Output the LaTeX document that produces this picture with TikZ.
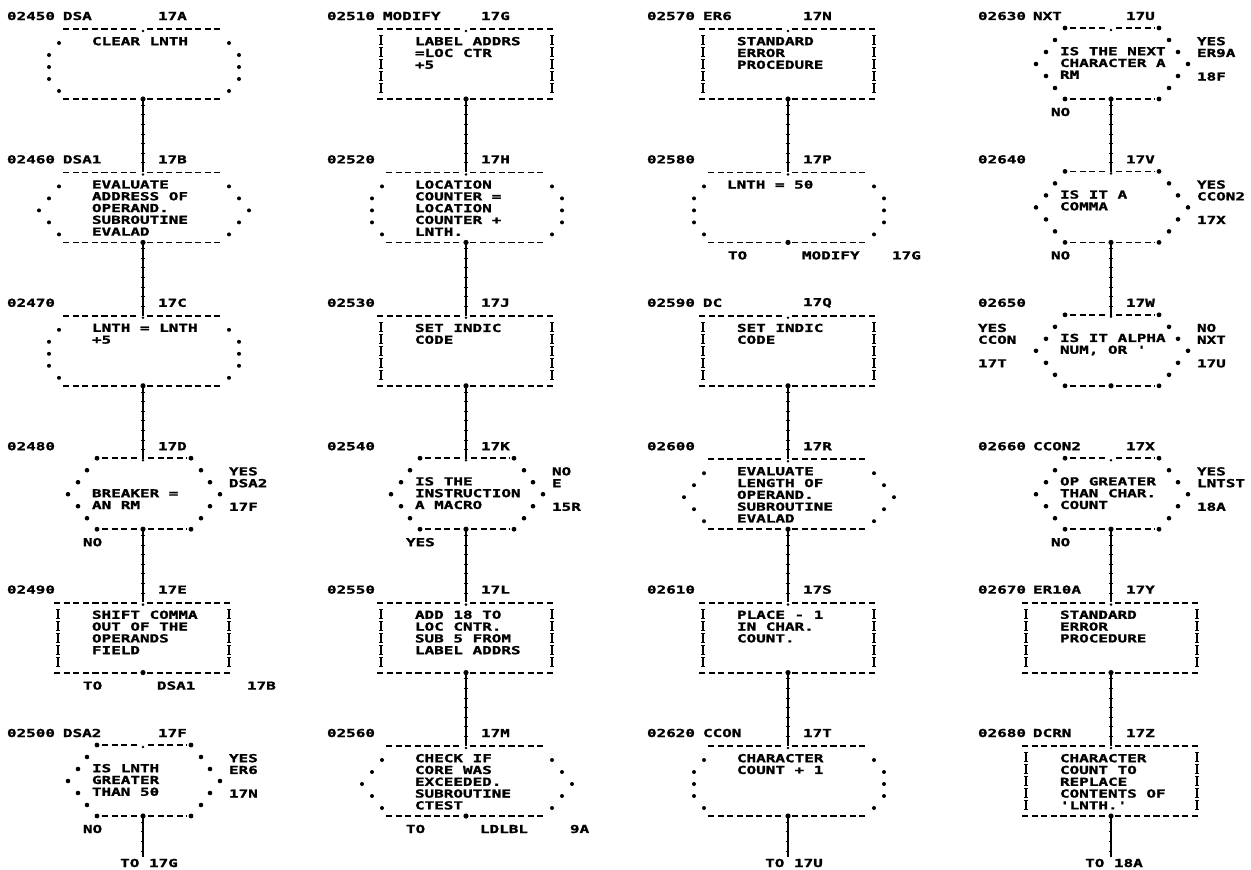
\documentclass[tikz,border=0pt]{standalone}
\usepackage{fontspec}
\newfontfamily\prtfont[FakeStretch=1.45,FakeBold=1.6]{DejaVu Sans Mono}
\usetikzlibrary{decorations.markings}
\tikzset{
  txt/.style={font=\prtfont\bfseries\fontsize{11}{11.8}\selectfont, inner sep=0pt, outer sep=0pt, text=black},
  txtb/.style={txt, align=left, anchor=north west},
  dashln/.style={line width=1.8pt, dash pattern=on 6.2pt off 3.4pt},
  shp/.style={draw=none, minimum width=180pt, minimum height=70pt, inner sep=0pt},
  conn/.style={line width=1.3pt, postaction={decorate, decoration={markings,
      mark=between positions 6pt and -2pt step 9.6pt with {\draw[line width=1pt] (0,-2.4pt) -- (0,2.4pt);}}}},
}
\newcommand\rowlabel[8]{%
  \node[txt,anchor=west] (#1n) at (#2,#5) {#6};
  \node[txt,anchor=west] (#1m) at (#3,#5) {#7};
  \node[txt,anchor=west] (#1r) at ({#4+15},#5) {#8};}
\newcommand\btext[5]{\node[txtb] (#1) at ({#2-51},{#3+#4}) {#5};}
\newcommand\rtext[4]{\node[txtb] (#1) at ({#2+86},{#3+21}) {#4};}
\newcommand\btmlabel[4]{\node[txt,anchor=west] (#1) at ({#2-60},{#3+96}) {#4};}
\newcommand\tolabel[5]{%
  \node[txt,anchor=west] (#1a) at ({#2-60},{#3+96}) {TO};
  \node[txt,anchor=west] (#1b) at ({#2+14},{#3+96}) {#4};
  \node[txt,anchor=west] (#1c) at ({#2+104},{#3+96}) {#5};}
\newcommand\hlines[3]{% y, left, right
  \draw[dashln] (#2,#1) -- (-4,#1); \draw[dashln] (4,#1) -- (#3,#1);}
\newcommand\ovalshape[3]{%
  \begin{scope}[shift={(#2,#3)}]
    \node[shp] (#1) at (0,48) {};
    \hlines{13}{-80}{80}\hlines{83}{-80}{80}
    \fill (0,15) circle (1.4pt); \fill (0,83) circle (2.6pt);
    \foreach \x/\y in {-84/27,-94/39,-94/51,-94/63,-84/75,86/27,96/39,96/51,96/63,86/75}
      \fill (\x,\y) circle (2pt);
  \end{scope}}
\newcommand\subshape[3]{%
  \begin{scope}[shift={(#2,#3)}]
    \node[shp] (#1) at (0,48) {};
    \hlines{13}{-80}{80}\hlines{83}{-80}{80}
    \fill (0,15) circle (1.4pt); \fill (0,83) circle (2.6pt);
    \foreach \x/\y in {-84/27,-94/39,-104/51,-94/63,-84/75,86/27,96/39,106/51,96/63,86/75}
      \fill (\x,\y) circle (2pt);
  \end{scope}}
\newcommand\procshape[3]{%
  \begin{scope}[shift={(#2,#3)}]
    \node[shp] (#1) at (0,48) {};
    \hlines{13}{-89}{88}\hlines{83}{-89}{88}
    \fill (0,15) circle (1.4pt); \fill (0,83) circle (2.6pt);
    \foreach \x in {-85,86} \foreach \y in {24,36,48,60,72} {
      \draw[line width=1.4pt] (\x,\y-4.5) -- (\x,\y+4.5);
      \draw[line width=1.1pt] (\x-2,\y-4.5) -- (\x+2,\y-4.5) (\x-2,\y+4.5) -- (\x+2,\y+4.5);}
  \end{scope}}
\newcommand\decshape[3]{%
  \begin{scope}[shift={(#2,#3)}]
    \node[shp] (#1) at (0,48) {};
    \draw[dashln] (-41,12) -- (-5,12); \draw[dashln] (5,12) -- (44,12);
    \draw[dashln] (-41,83) -- (-5,83); \draw[dashln] (5,83) -- (44,83);
    \foreach \x/\y in {-46/12,48/12,-46/83,48/83} \fill (\x,\y) circle (2.4pt);
    \fill (0,14) circle (1.4pt); \fill (0,83) circle (2.6pt);
    \foreach \x/\y in {-56/24,-65/36,-75/48,-65/60,-56/72,58/24,67/36,77/48,67/60,58/72}
      \fill (\x,\y) circle (2.3pt);
  \end{scope}}
\begin{document}
\begin{tikzpicture}[x=1pt,y=-1pt]
\useasboundingbox (0,0) rectangle (1251,870);
\fill[white] (0,0) rectangle (1251,870);
% ---------- column 1
\rowlabel{a1}{7}{63}{143}{16}{02450}{DSA}{17A}
\ovalshape{a1}{143}{16}
\btext{a1t}{143}{16}{21}{CLEAR LNTH}
\rowlabel{a2}{7}{63}{143}{159.4}{02460}{DSA1}{17B}
\subshape{a2}{143}{159.4}
\btext{a2t}{143}{159.4}{21}{EVALUATE\\ADDRESS OF\\OPERAND.\\SUBROUTINE\\EVALAD}
\rowlabel{a3}{7}{63}{143}{302.8}{02470}{}{17C}
\ovalshape{a3}{143}{302.8}
\btext{a3t}{143}{302.8}{21}{LNTH = LNTH\\+5}
\rowlabel{a4}{7}{63}{143}{446.2}{02480}{}{17D}
\decshape{a4}{143}{446.2}
\btext{a4t}{143}{446.2}{43}{BREAKER =\\AN RM}
\rtext{a4s}{143}{446.2}{YES\\DSA2\\[11.8pt]17F}
\btmlabel{a4b}{143}{446.2}{NO}
\rowlabel{a5}{7}{63}{143}{589.6}{02490}{}{17E}
\procshape{a5}{143}{589.6}
\btext{a5t}{143}{589.6}{21}{SHIFT COMMA\\OUT OF THE\\OPERANDS\\FIELD}
\tolabel{a5o}{143}{589.6}{DSA1}{17B}
\rowlabel{a6}{7}{63}{143}{733}{02500}{DSA2}{17F}
\decshape{a6}{143}{733}
\btext{a6t}{143}{733}{31}{IS LNTH\\GREATER\\THAN 50}
\rtext{a6s}{143}{733}{YES\\ER6\\[11.8pt]17N}
\btmlabel{a6b}{143}{733}{NO}
\node[txt] (a7) at (149,863) {TO 17G};
\draw[conn] (a1.south) -- (a2.north);
\draw[conn] (a2.south) -- (a3.north);
\draw[conn] (a3.south) -- (a4.north);
\draw[conn] (a4.south) -- (a5.north);
\draw[conn, shorten >=2pt] (a6.south) -- (a6.south |- a7.north);
% ---------- column 2
\rowlabel{b1}{327}{383}{466}{16}{02510}{MODIFY}{17G}
\procshape{b1}{466}{16}
\btext{b1t}{466}{16}{21}{LABEL ADDRS\\=LOC CTR\\+5}
\rowlabel{b2}{327}{383}{466}{159.4}{02520}{}{17H}
\ovalshape{b2}{466}{159.4}
\btext{b2t}{466}{159.4}{21}{LOCATION\\COUNTER =\\LOCATION\\COUNTER +\\LNTH.}
\rowlabel{b3}{327}{383}{466}{302.8}{02530}{}{17J}
\procshape{b3}{466}{302.8}
\btext{b3t}{466}{302.8}{21}{SET INDIC\\CODE}
\rowlabel{b4}{327}{383}{466}{446.2}{02540}{}{17K}
\decshape{b4}{466}{446.2}
\btext{b4t}{466}{446.2}{31}{IS THE\\INSTRUCTION\\A MACRO}
\rtext{b4s}{466}{446.2}{NO\\E\\[11.8pt]15R}
\btmlabel{b4b}{466}{446.2}{YES}
\rowlabel{b5}{327}{383}{466}{589.6}{02550}{}{17L}
\procshape{b5}{466}{589.6}
\btext{b5t}{466}{589.6}{21}{ADD 18 TO\\LOC CNTR.\\SUB 5 FROM\\LABEL ADDRS}
\rowlabel{b6}{327}{383}{466}{733}{02560}{}{17M}
\subshape{b6}{466}{733}
\btext{b6t}{466}{733}{21}{CHECK IF\\CORE WAS\\EXCEEDED.\\SUBROUTINE\\CTEST}
\tolabel{b6o}{466}{733}{LDLBL}{9A}
\draw[conn] (b1.south) -- (b2.north);
\draw[conn] (b2.south) -- (b3.north);
\draw[conn] (b3.south) -- (b4.north);
\draw[conn] (b4.south) -- (b5.north);
\draw[conn] (b5.south) -- (b6.north);
% ---------- column 3
\rowlabel{c1}{647}{703}{788}{16}{02570}{ER6}{17N}
\procshape{c1}{788}{16}
\btext{c1t}{788}{16}{21}{STANDARD\\ERROR\\PROCEDURE}
\rowlabel{c2}{647}{703}{788}{159.4}{02580}{}{17P}
\ovalshape{c2}{788}{159.4}
\node[txtb] (c2t) at (727,180.4) {LNTH = 50};
\tolabel{c2o}{788}{159.4}{MODIFY}{17G}
\rowlabel{c3}{647}{703}{788}{302.8}{02590}{DC}{17Q}
\procshape{c3}{788}{302.8}
\btext{c3t}{788}{302.8}{21}{SET INDIC\\CODE}
\rowlabel{c4}{647}{703}{788}{446.2}{02600}{}{17R}
\subshape{c4}{788}{446.2}
\btext{c4t}{788}{446.2}{21}{EVALUATE\\LENGTH OF\\OPERAND.\\SUBROUTINE\\EVALAD}
\rowlabel{c5}{647}{703}{788}{589.6}{02610}{}{17S}
\procshape{c5}{788}{589.6}
\btext{c5t}{788}{589.6}{21}{PLACE - 1\\IN CHAR.\\COUNT.}
\rowlabel{c6}{647}{703}{788}{733}{02620}{CCON}{17T}
\ovalshape{c6}{788}{733}
\btext{c6t}{788}{733}{21}{CHARACTER\\COUNT + 1}
\node[txt] (c7) at (794,863) {TO 17U};
\draw[conn] (c1.south) -- (c2.north);
\draw[conn] (c3.south) -- (c4.north);
\draw[conn] (c4.south) -- (c5.north);
\draw[conn] (c5.south) -- (c6.north);
\draw[conn, shorten >=2pt] (c6.south) -- (c6.south |- c7.north);
% ---------- column 4
\rowlabel{d1}{978}{1033}{1111}{16}{02630}{NXT}{17U}
\decshape{d1}{1111}{16}
\btext{d1t}{1111}{16}{31}{IS THE NEXT\\CHARACTER A\\RM}
\rtext{d1s}{1111}{16}{YES\\ER9A\\[11.8pt]18F}
\btmlabel{d1b}{1111}{16}{NO}
\rowlabel{d2}{978}{1033}{1111}{159.4}{02640}{}{17V}
\decshape{d2}{1111}{159.4}
\btext{d2t}{1111}{159.4}{31}{IS IT A\\COMMA}
\rtext{d2s}{1111}{159.4}{YES\\CCON2\\[11.8pt]17X}
\btmlabel{d2b}{1111}{159.4}{NO}
\rowlabel{d3}{978}{1033}{1111}{302.8}{02650}{}{17W}
\decshape{d3}{1111}{302.8}
\btext{d3t}{1111}{302.8}{31}{IS IT ALPHA\\NUM, OR '}
\rtext{d3s}{1111}{302.8}{NO\\NXT\\[11.8pt]17U}
\node[txtb] (d3l) at (978,323.8) {YES\\CCON\\[11.8pt]17T};
\rowlabel{d4}{978}{1033}{1111}{446.2}{02660}{CCON2}{17X}
\decshape{d4}{1111}{446.2}
\btext{d4t}{1111}{446.2}{31}{OP GREATER\\THAN CHAR.\\COUNT}
\rtext{d4s}{1111}{446.2}{YES\\LNTST\\[11.8pt]18A}
\btmlabel{d4b}{1111}{446.2}{NO}
\rowlabel{d5}{978}{1033}{1111}{589.6}{02670}{ER10A}{17Y}
\procshape{d5}{1111}{589.6}
\btext{d5t}{1111}{589.6}{21}{STANDARD\\ERROR\\PROCEDURE}
\rowlabel{d6}{978}{1033}{1111}{733}{02680}{DCRN}{17Z}
\procshape{d6}{1111}{733}
\btext{d6t}{1111}{733}{21}{CHARACTER\\COUNT TO\\REPLACE\\CONTENTS OF\\'LNTH.'}
\node[txt] (d7) at (1114,863) {TO 18A};
\draw[conn] (d1.south) -- (d2.north);
\draw[conn] (d2.south) -- (d3.north);
\draw[conn] (d4.south) -- (d5.north);
\draw[conn] (d5.south) -- (d6.north);
\draw[conn, shorten >=2pt] (d6.south) -- (d6.south |- d7.north);
\end{tikzpicture}
\end{document}
